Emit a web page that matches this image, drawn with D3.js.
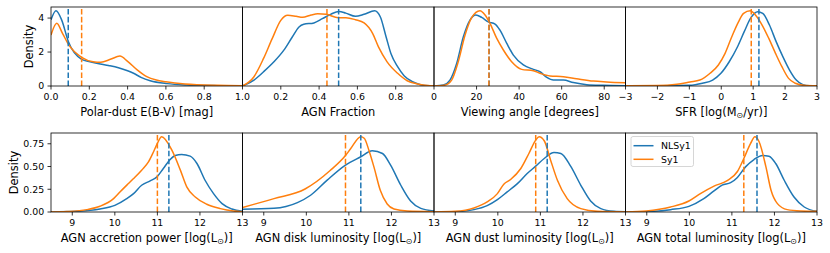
<!DOCTYPE html>
<html><head><meta charset="utf-8">
<script src="https://cdn.jsdelivr.net/npm/d3@7"></script>
<style>body{margin:0;background:#fff} svg{display:block} text{font-family:"DejaVu Sans",sans-serif;fill:#000}</style>
</head><body><svg id="c" width="830" height="253"></svg>
<script>
// ---------- data (x, density) ----------
const seriesNames = ["NLSy1", "Sy1"];
const seriesColors = ["#1f77b4", "#ff7f0e"];

const dustNLSy1 = [[0,3.9],[0.026,4.43],[0.056,3.88],[0.091,2.6],[0.16,1.57],[0.204,1.43],[0.257,1.3],[0.3,1.21],[0.352,1.08],[0.4,0.9],[0.431,0.75],[0.47,0.51],[0.518,0.31],[0.606,0.14],[0.71,0.06],[0.868,0.02],[1.0,0.01]];
const dustSy1 = [[0,3.0],[0.03,3.69],[0.06,3.1],[0.091,2.45],[0.16,1.69],[0.22,1.43],[0.26,1.4],[0.31,1.57],[0.36,1.76],[0.4,1.45],[0.45,0.95],[0.5,0.55],[0.55,0.35],[0.6,0.25],[0.7,0.12],[0.87,0.04],[1.0,0.02]];

const fracNLSy1 = [[0,0],[0.06,0.35],[0.11,0.84],[0.164,1.43],[0.216,2.12],[0.26,2.9],[0.295,3.49],[0.32,3.65],[0.373,3.73],[0.417,3.98],[0.46,4.24],[0.504,4.41],[0.539,4.31],[0.59,4.12],[0.635,4.24],[0.69,4.45],[0.72,4.08],[0.75,2.9],[0.775,1.92],[0.81,1.14],[0.845,0.59],[0.888,0.25],[0.93,0.08],[0.98,0.01],[1,0]];
const fracSy1 = [[0,0],[0.06,0.55],[0.11,1.63],[0.155,2.8],[0.2,3.88],[0.236,4.18],[0.28,4.12],[0.314,4.06],[0.358,4.2],[0.393,4.27],[0.437,4.24],[0.5,4.04],[0.54,4.04],[0.59,3.92],[0.635,3.73],[0.68,3.1],[0.71,2.31],[0.755,1.43],[0.81,0.75],[0.86,0.31],[0.913,0.12],[0.98,0.02],[1,0.01]];

const angleNLSy1 = [[0,0],[4.4,0.0006],[7.5,0.0035],[10.65,0.0133],[13.8,0.029],[16.9,0.0388],[19.7,0.0418],[22.4,0.0404],[25.5,0.0378],[28.7,0.0365],[31,0.0329],[34.2,0.0251],[37.3,0.0182],[42,0.0124],[46.7,0.0098],[49.8,0.0084],[53,0.0051],[56.1,0.0035],[60.8,0.0035],[65.5,0.002],[71.8,0.0008],[79.6,0.0004],[90,0.0002]];
const angleSy1 = [[0,0],[5,0.0005],[8.3,0.0035],[11.4,0.0143],[14.6,0.03],[17.7,0.0402],[21.6,0.0443],[24,0.0418],[26.3,0.0369],[29.5,0.028],[32.6,0.0212],[36.5,0.0143],[41.2,0.0098],[46.7,0.009],[49.8,0.0075],[54.5,0.0059],[60.8,0.0055],[67,0.0043],[74.9,0.0029],[81.1,0.0024],[90,0.0019]];

const sfrNLSy1 = [[-3,0],[-1,0.007],[-0.59,0.029],[-0.27,0.063],[-0.01,0.135],[0.25,0.257],[0.51,0.416],[0.72,0.576],[0.93,0.724],[1.14,0.787],[1.3,0.769],[1.51,0.646],[1.72,0.47],[1.93,0.311],[2.14,0.169],[2.35,0.063],[2.56,0.014],[2.77,0.002],[3,0]];
const sfrSy1 = [[-3,0.002],[-2.02,0.004],[-1.39,0.018],[-0.98,0.043],[-0.67,0.063],[-0.35,0.135],[-0.09,0.223],[0.12,0.346],[0.33,0.522],[0.54,0.68],[0.7,0.769],[0.91,0.797],[1.07,0.752],[1.28,0.646],[1.49,0.504],[1.7,0.346],[1.9,0.205],[2.11,0.081],[2.32,0.029],[2.58,0.007],[3,0.002]];

const accNLSy1 = [[8.5,0],[9.1,0.007],[9.65,0.033],[10.0,0.073],[10.28,0.147],[10.44,0.202],[10.63,0.294],[10.83,0.342],[10.99,0.386],[11.14,0.478],[11.3,0.577],[11.42,0.621],[11.57,0.632],[11.77,0.614],[11.93,0.533],[12.12,0.349],[12.32,0.202],[12.52,0.092],[12.75,0.033],[13,0.007]];
const accSy1 = [[8.5,0],[8.87,0.005],[9.34,0.026],[9.65,0.063],[9.97,0.147],[10.12,0.22],[10.32,0.313],[10.44,0.368],[10.63,0.46],[10.79,0.55],[10.91,0.662],[11.0,0.754],[11.1,0.827],[11.34,0.68],[11.54,0.46],[11.69,0.276],[11.89,0.165],[12.16,0.085],[12.48,0.037],[12.79,0.011],[13,0.004]];

const diskNLSy1 = [[8.5,0.029],[9.24,0.04],[9.79,0.103],[10.1,0.184],[10.49,0.35],[10.92,0.515],[11.28,0.607],[11.55,0.673],[11.79,0.643],[11.98,0.515],[12.22,0.294],[12.45,0.121],[12.69,0.04],[13,0.011]];
const diskSy1 = [[8.5,0.05],[9.24,0.147],[9.97,0.253],[10.56,0.456],[10.92,0.621],[11.04,0.695],[11.28,0.827],[11.36,0.81],[11.47,0.68],[11.59,0.493],[11.74,0.235],[11.9,0.088],[12.06,0.033],[12.37,0.011],[13,0.004]];

const dustLumNLSy1 = [[8.5,0],[9.0,0.004],[9.44,0.026],[9.75,0.07],[9.99,0.136],[10.22,0.221],[10.46,0.312],[10.69,0.423],[10.89,0.504],[11.09,0.588],[11.32,0.654],[11.48,0.643],[11.71,0.504],[11.95,0.294],[12.18,0.121],[12.42,0.037],[12.73,0.007],[13,0.002]];
const dustLumSy1 = [[8.5,0],[9.0,0.007],[9.44,0.044],[9.75,0.11],[9.99,0.202],[10.14,0.305],[10.3,0.357],[10.54,0.478],[10.73,0.643],[10.89,0.79],[10.97,0.827],[11.09,0.783],[11.24,0.57],[11.4,0.349],[11.63,0.147],[11.95,0.037],[12.34,0.007],[13,0.001]];

const totNLSy1 = [[8.5,0],[8.99,0.004],[9.56,0.026],[9.99,0.062],[10.34,0.147],[10.58,0.232],[10.77,0.295],[10.97,0.322],[11.13,0.38],[11.32,0.496],[11.52,0.577],[11.72,0.621],[11.87,0.614],[12.03,0.533],[12.23,0.349],[12.46,0.165],[12.7,0.055],[13,0.007]];
const totSy1 = [[8.5,0],[8.99,0.011],[9.56,0.055],[9.99,0.121],[10.27,0.205],[10.58,0.285],[10.89,0.345],[11.13,0.445],[11.28,0.588],[11.44,0.754],[11.54,0.827],[11.64,0.772],[11.8,0.496],[11.92,0.239],[12.07,0.092],[12.3,0.026],[12.62,0.011],[13,0.007]];

// medians (dashed lines): [NLSy1, Sy1]
const medDust = [0.09, 0.16];
const medFrac = [0.502, 0.441];
const medAngle = [25.9, 25.8];
const medSfr = [1.18, 0.94];
const medAcc = [11.27, 11.0];
const medDisk = [11.28, 10.92];
const medDustLum = [11.16, 10.89];
const medTot = [11.59, 11.28];

// axis settings ("_\u2299" marks a subscript sun symbol)
const xLabels = ["Polar-dust E(B-V) [mag]", "AGN Fraction", "Viewing angle [degrees]", "SFR [log(M_\u2299/yr)]",
  "AGN accretion power [log(L_\u2299)]", "AGN disk luminosity [log(L_\u2299)]", "AGN dust luminosity [log(L_\u2299)]", "AGN total luminosity [log(L_\u2299)]"];
const xDomains = [[0,1],[0,1],[0,90],[-3,3],[8.5,13],[8.5,13],[8.5,13],[8.5,13]];
const xTicks = [[0,0.2,0.4,0.6,0.8,1.0],[0.2,0.4,0.6,0.8],[0,20,40,60,80],[-3,-2,-1,0,1,2,3],[9,10,11,12,13],[9,10,11,12,13],[9,10,11,12,13],[9,10,11,12,13]];
const xFormats = [".1f",".1f","d","d","d","d","d","d"];
const yTicksTop = [0,2,4];
const yTicksBottom = [0,0.25,0.5,0.75];

const panelData = [
  [dustNLSy1, dustSy1, medDust], [fracNLSy1, fracSy1, medFrac], [angleNLSy1, angleSy1, medAngle], [sfrNLSy1, sfrSy1, medSfr],
  [accNLSy1, accSy1, medAcc], [diskNLSy1, diskSy1, medDisk], [dustLumNLSy1, dustLumSy1, medDustLum], [totNLSy1, totSy1, medTot]
];

// ---------- layout ----------
const svg = d3.select("#c");
const L = 51, R = 817, rowTop = [7, 133], rowH = 79;
const pw = (R - L) / 4;
const tickFont = 9.4, labelFont = 11.4;

function labelText(sel, str) {
  const parts = str.split("_");
  sel.append("tspan").text(parts[0]);
  for (let k = 1; k < parts.length; k++) {
    const sym = parts[k].charAt(0), rest = parts[k].slice(1);
    sel.append("tspan").attr("font-size", labelFont * 0.7).attr("dy", 2.6).text(sym);
    sel.append("tspan").attr("font-size", labelFont).attr("dy", -2.6).text(rest);
  }
}

panelData.forEach((pd, i) => {
  const row = Math.floor(i / 4), col = i % 4;
  const x0 = L + col * pw, y0 = rowTop[row], y1 = y0 + rowH;
  const x = d3.scaleLinear().domain(xDomains[i]).range([x0, x0 + pw]);
  const ymax = 1.05 * d3.max([...pd[0], ...pd[1]], d => d[1]);
  const y = d3.scaleLinear().domain([0, ymax]).range([y1, y0]);
  const g = svg.append("g");
  const cid = "clip" + i;
  svg.append("clipPath").attr("id", cid).append("rect").attr("x", x0).attr("y", y0).attr("width", pw).attr("height", rowH);
  const plot = g.append("g").attr("clip-path", `url(#${cid})`);
  const line = d3.line().x(d => x(d[0])).y(d => y(d[1])).curve(d3.curveMonotoneX);
  [0, 1].forEach(s => {
    plot.append("path").attr("d", line(pd[s])).attr("fill", "none")
      .attr("stroke", seriesColors[s]).attr("stroke-width", 1.5).attr("stroke-linejoin", "round");
  });
  [0, 1].forEach(s => {
    plot.append("line").attr("x1", x(pd[2][s])).attr("x2", x(pd[2][s])).attr("y1", y1).attr("y2", y0)
      .attr("stroke", seriesColors[s]).attr("stroke-width", 1.5).attr("stroke-dasharray", "5.55,2.4");
  });
  // spines
  g.append("rect").attr("x", x0).attr("y", y0).attr("width", pw).attr("height", rowH)
    .attr("fill", "none").attr("stroke", "#000").attr("stroke-width", 0.8);
  // x axis
  const fmt = d3.format(xFormats[i]);
  xTicks[i].forEach(t => {
    g.append("line").attr("x1", x(t)).attr("x2", x(t)).attr("y1", y1).attr("y2", y1 + 3.5)
      .attr("stroke", "#000").attr("stroke-width", 0.8);
    g.append("text").attr("x", x(t)).attr("y", y1 + 14.3).attr("text-anchor", "middle")
      .attr("font-size", tickFont).text(fmt(t));
  });
  const xl = g.append("text").attr("x", x0 + pw / 2).attr("y", y1 + 29.5).attr("text-anchor", "middle")
    .attr("font-size", labelFont);
  labelText(xl, xLabels[i]);
  // y axis on first column
  if (col === 0) {
    const yt = row === 0 ? yTicksTop : yTicksBottom;
    const yf = d3.format(row === 0 ? "d" : ".2f");
    yt.forEach(t => {
      g.append("line").attr("x1", x0 - 3.5).attr("x2", x0).attr("y1", y(t)).attr("y2", y(t))
        .attr("stroke", "#000").attr("stroke-width", 0.8);
      g.append("text").attr("x", x0 - 6.8).attr("y", y(t) + 3.4).attr("text-anchor", "end")
        .attr("font-size", tickFont).text(yf(t));
    });
    const cy = (y0 + y1) / 2;
    g.append("text").attr("transform", `translate(${x0 - (row === 0 ? 18.5 : 33)},${cy}) rotate(-90)`)
      .attr("text-anchor", "middle").attr("font-size", labelFont).text("Density");
  }
  // legend in last panel
  if (i === 7) {
    const lg = g.append("g");
    lg.append("rect").attr("x", x0 + 5.5).attr("y", y0 + 3.5).attr("width", 62.5).attr("height", 30)
      .attr("rx", 2).attr("fill", "#fff").attr("fill-opacity", 0.8).attr("stroke", "#cccccc").attr("stroke-width", 0.8);
    seriesNames.forEach((n, s) => {
      const ly = y0 + 12.7 + s * 13.6;
      lg.append("line").attr("x1", x0 + 8).attr("x2", x0 + 28).attr("y1", ly).attr("y2", ly)
        .attr("stroke", seriesColors[s]).attr("stroke-width", 1.5);
      lg.append("text").attr("x", x0 + 35.5).attr("y", ly + 3.4).attr("font-size", tickFont).text(n);
    });
  }
});
</script></body></html>
